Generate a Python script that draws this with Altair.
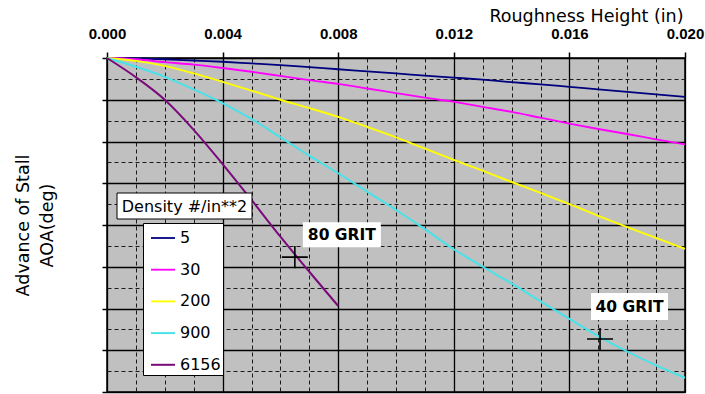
import altair as alt
import pandas as pd

# ---------------- data ----------------
roughness = [0.000, 0.001, 0.002, 0.003, 0.004, 0.005, 0.006, 0.007, 0.008, 0.009, 0.010,
             0.011, 0.012, 0.013, 0.014, 0.015, 0.016, 0.017, 0.018, 0.019, 0.020]

density_labels = ["5", "30", "200", "900", "6156"]

adv_5 = [0, -0.01, -0.03, -0.06, -0.09, -0.13, -0.17, -0.22, -0.27, -0.32, -0.37,
         -0.42, -0.47, -0.52, -0.58, -0.63, -0.69, -0.75, -0.81, -0.87, -0.93]
adv_30 = [0, -0.03, -0.10, -0.16, -0.24, -0.33, -0.43, -0.53, -0.62, -0.73, -0.84,
          -0.95, -1.05, -1.17, -1.29, -1.43, -1.57, -1.70, -1.82, -1.95, -2.07]
adv_200 = [0, -0.07, -0.19, -0.37, -0.57, -0.78, -1.00, -1.20, -1.41, -1.65, -1.90,
           -2.17, -2.44, -2.70, -2.97, -3.23, -3.50, -3.78, -4.05, -4.31, -4.57]
adv_900 = [0, -0.21, -0.45, -0.75, -1.08, -1.46, -1.90, -2.34, -2.76, -3.20, -3.64,
           -4.10, -4.58, -5.00, -5.40, -5.83, -6.25, -6.66, -7.03, -7.36, -7.66]
adv_6156 = [0, -0.46, -1.00, -1.72, -2.54, -3.40, -4.28, -5.12, -5.94]

series_values = [adv_5, adv_30, adv_200, adv_900, adv_6156]

grit_labels = ["80 GRIT", "40 GRIT"]
grit_height = [0.0065, 0.01706]
grit_adv = [-4.77, -6.73]

legend_title = ["Density #/in**2"]

x_major = [0.000, 0.004, 0.008, 0.012, 0.016, 0.020]
x_minor = roughness
y_major = [-8, -7, -6, -5, -4, -3, -2, -1, 0]
y_minor = [-8, -7.5, -7, -6.5, -6, -5.5, -5, -4.5, -4, -3.5, -3, -2.5, -2, -1.5, -1, -0.5, 0]

# ---------------- styles ----------------
colors = ["#00007e", "#ff00ff", "#ffff00", "#45e3ea", "#7a0a7a"]
widths = [1.8, 2.0, 2.5, 3.4, 2.0]
FONT = "DejaVu Sans"
LABEL_FONT = "Liberation Sans"

rows = []
for lab, vals in zip(density_labels, series_values):
    for h, v in zip(roughness, vals):
        rows.append({"density": lab, "h": h, "adv": v})
df = pd.DataFrame(rows)

x_scale = alt.Scale(domain=[0, 0.02], nice=False, zero=False)
y_scale = alt.Scale(domain=[-8, 0], nice=False, zero=False)

# minor (dashed) grid layer
grid_layer = alt.Chart(df).mark_point(opacity=0).encode(
    x=alt.X("h:Q", scale=x_scale, axis=alt.Axis(
        orient="bottom", values=x_minor, grid=True, gridDash=[4, 3], gridColor="#1a1a1a",
        gridWidth=1, labels=False, ticks=False, domain=False, title=None)),
    y=alt.Y("adv:Q", scale=y_scale, axis=alt.Axis(
        orient="right", values=y_minor, grid=True, gridDash=[4, 3], gridColor="#1a1a1a",
        gridWidth=1, labels=False, ticks=False, domain=False, title=None)),
)

lines = alt.Chart(df).mark_line(strokeCap="butt", interpolate="monotone").encode(
    x=alt.X("h:Q", scale=x_scale, axis=alt.Axis(
        orient="top", values=x_major, format=".3f", grid=True, gridColor="black",
        gridWidth=1.3, ticks=True, tickSize=6, tickColor="black", tickWidth=1.5,
        domain=False, labelFont=LABEL_FONT, labelFontSize=15, labelFontWeight="bold",
        labelColor="black", labelPadding=14, labelBaseline="alphabetic",
        labelFlush=False, labelOverlap=False,
        title="Roughness Height (in)", titleFont=FONT, titleFontSize=17.5,
        titleFontWeight="normal", titleColor="black", titleAlign="right",
        titleBaseline="alphabetic", titleX=576, titleY=-37)),
    y=alt.Y("adv:Q", scale=y_scale, axis=alt.Axis(
        orient="left", values=y_major, grid=True, gridColor="black", gridWidth=1.3,
        ticks=True, tickSize=5, tickColor="black", tickWidth=1.5, labels=False,
        domain=False, title=["Advance of Stall", "AOA(deg)"], titleFont=FONT,
        titleFontSize=17.5, titleFontWeight="normal", titleColor="black",
        titleAngle=270, titleAlign="center", titleBaseline="middle",
        titleLineHeight=24, titleX=-84, titleY=167)),
    color=alt.Color("density:N", sort=density_labels,
                    scale=alt.Scale(domain=density_labels, range=colors),
                    legend=alt.Legend(
                        title=None, orient="none", legendX=36, legendY=165,
                        fillColor="white", strokeColor="black", padding=2,
                        symbolType="stroke", symbolSize=576, symbolStrokeWidth=2,
                        symbolOffset=5, labelOffset=4, labelFont=FONT,
                        labelFontSize=16, labelColor="black", rowPadding=10.7)),
    strokeWidth=alt.StrokeWidth("density:N", sort=density_labels,
                                scale=alt.Scale(domain=density_labels, range=widths),
                                legend=None),
    detail="density:N",
)

grit_df = pd.DataFrame({"label": grit_labels, "h": grit_height, "adv": grit_adv})

crosses = alt.Chart(grit_df).mark_point(
    shape="M-1,0L1,0M0,-0.85L0,0.85", size=676, filled=False, stroke="black",
    strokeWidth=1.6, opacity=1).encode(
    x=alt.X("h:Q", scale=x_scale, axis=None),
    y=alt.Y("adv:Q", scale=y_scale, axis=None),
)

box_offsets = [(8, 86, -35, -10), (-9, 68, -46, -19)]
text_offsets = [(47, -22), (29.5, -32)]

annots = []
for i, lab in enumerate(grit_labels):
    base = alt.Chart(grit_df).transform_filter(alt.datum.label == lab)
    x0, x1, y0, y1 = box_offsets[i]
    box = base.mark_rect(fill="white", xOffset=x0, x2Offset=x1,
                         yOffset=y0, y2Offset=y1).encode(
        x=alt.X("h:Q", scale=x_scale, axis=None), x2="h:Q",
        y=alt.Y("adv:Q", scale=y_scale, axis=None), y2="adv:Q")
    dx, dy = text_offsets[i]
    txt = base.mark_text(font=FONT, fontSize=15.5, fontWeight="bold", color="black",
                         align="center", baseline="middle", dx=dx, dy=dy).encode(
        x=alt.X("h:Q", scale=x_scale, axis=None),
        y=alt.Y("adv:Q", scale=y_scale, axis=None),
        text="label:N")
    annots += [box, txt]

lt_df = pd.DataFrame({"t": legend_title})
legend_box = alt.Chart(lt_df).mark_rect(fill="white", stroke="black", strokeWidth=1).encode(
    x=alt.value(10), x2=alt.value(145), y=alt.value(135), y2=alt.value(161))
legend_text = alt.Chart(lt_df).mark_text(font=FONT, fontSize=16, color="black",
                                         align="center", baseline="middle").encode(
    x=alt.value(77.5), y=alt.value(148.5), text="t:N")

chart = alt.layer(grid_layer, lines, crosses, *annots, legend_box, legend_text).resolve_axis(
    x="independent", y="independent"
).properties(
    width=578, height=334,
    autosize=alt.AutoSizeParams(type="none"),
    padding={"left": 107, "top": 58, "right": 20, "bottom": 2},
    background="white",
).configure_view(fill="#c0c0c0", stroke="black", strokeWidth=1.5)

chart.save("out.html", embed_options={"renderer": "svg", "actions": False})
